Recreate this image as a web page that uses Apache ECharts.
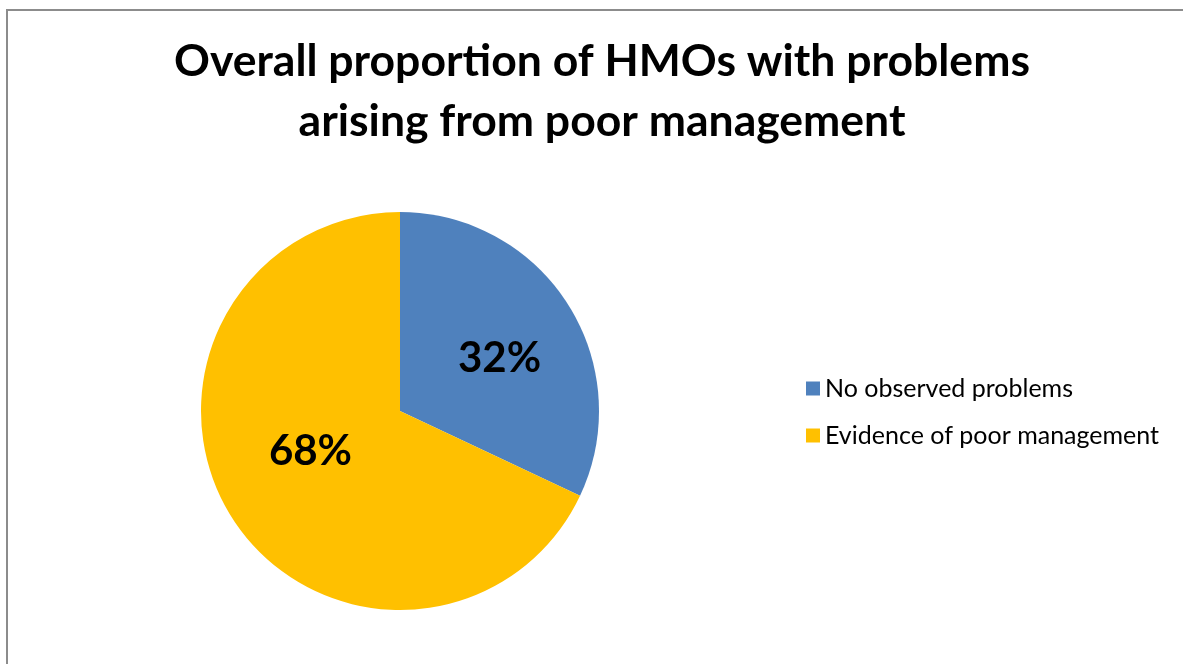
<!DOCTYPE html>
<html>
<head>
<meta charset="utf-8">
<script src="https://cdn.jsdelivr.net/npm/echarts@6/dist/echarts.min.js"></script>
<style>
  html, body { margin: 0; padding: 0; background: #fff; }
  #chart { width: 1183px; height: 664px; }
</style>
</head>
<body>
<div id="chart"></div>
<script>
// Share of inspected HMOs by management finding
const categories = ['No observed problems', 'Evidence of poor management'];
const shares = [32, 68];
const colors = ['#4F81BD', '#FFC000'];
const titleLines = ['Overall proportion of HMOs with problems', 'arising from poor management'];

// nudges for the in-slice percentage labels
const labelNudge = [[13, 2], [-3, -14]];

const chart = echarts.init(document.getElementById('chart'));

chart.setOption({
  animation: false,
  backgroundColor: '#ffffff',
  graphic: [{
    type: 'rect',
    shape: { x: 7, y: 10, width: 1200, height: 700 },
    style: { fill: 'none', stroke: '#8c8c8c', lineWidth: 2 },
    silent: true
  }],
  title: {
    text: titleLines.join('\n'),
    left: 597,
    top: 27,
    textAlign: 'center',
    textStyle: {
      fontFamily: 'Lato',
      fontWeight: 'bold',
      fontSize: 44.5,
      lineHeight: 60,
      color: '#000'
    }
  },
  legend: {
    orient: 'vertical',
    left: 806,
    top: 376,
    padding: 0,
    itemWidth: 14,
    itemHeight: 14,
    itemGap: 22,
    icon: 'rect',
    textStyle: { fontFamily: 'Lato', fontSize: 25, color: '#000' },
    data: categories
  },
  series: [{
    type: 'pie',
    center: [400, 411],
    radius: 199,
    startAngle: 90,
    clockwise: true,
    color: colors,
    label: {
      show: true,
      position: 'inside',
      formatter: '{c}%',
      fontFamily: 'Lato',
      fontWeight: 'bold',
      fontSize: 42,
      color: '#000'
    },
    labelLine: { show: false },
    itemStyle: { borderWidth: 0 },
    emphasis: { disabled: true },
    data: categories.map((name, i) => ({
      name,
      value: shares[i],
      label: { offset: labelNudge[i] }
    }))
  }]
});
</script>
</body>
</html>
